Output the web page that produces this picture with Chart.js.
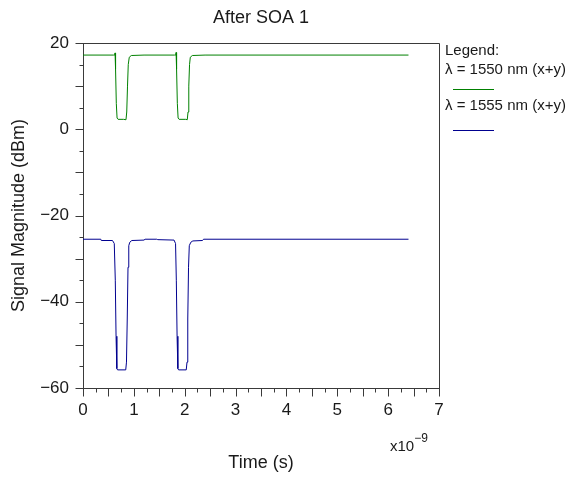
<!DOCTYPE html>
<html>
<head>
<meta charset="utf-8">
<script src="https://cdn.jsdelivr.net/npm/chart.js@4"></script>
<style>
html,body{margin:0;padding:0;background:#fff;}
#wrap{width:576px;height:480px;}
</style>
</head>
<body>
<div id="wrap"><canvas id="c" width="576" height="480"></canvas></div>
<script>
// Time in units of 1e-9 s
const chartTitle = "After SOA 1";
const xTitle = "Time (s)";
const yTitle = "Signal Magnitude (dBm)";
const xExponent = "−9";
const legendHeader = "Legend:";
const seriesNames = ["λ = 1550 nm (x+y)", "λ = 1555 nm (x+y)"];
const seriesColors = ["#008000", "#00008f"];

const timeGreen = [0, 0.60, 0.625, 0.63, 0.64, 0.655, 0.67, 0.69, 0.80, 0.845, 0.86, 0.875, 0.89, 0.91, 0.95, 1.2,
  1.80, 1.825, 1.83, 1.84, 1.855, 1.87, 1.89, 2.02, 2.05, 2.065, 2.08, 2.095, 2.11, 2.15, 2.4, 6.4];
const valGreen  = [17.2, 17.2, 17.2, 17.7, 14, 6, 2.6, 2.3, 2.3, 2.2, 4, 10, 15, 16.7, 17.1, 17.2,
  17.2, 17.2, 17.8, 14, 6, 2.6, 2.3, 2.3, 2.2, 4, 10, 15, 16.7, 17.1, 17.2, 17.2];

const timeBlue = [0, 0.35, 0.36, 0.58, 0.615, 0.635, 0.65, 0.665, 0.68, 0.84, 0.855, 0.87, 0.885, 0.90, 0.92, 0.96, 1.2, 1.22, 1.45, 1.47,
  1.79, 1.82, 1.835, 1.85, 1.865, 1.88, 2.03, 2.045, 2.06, 2.075, 2.09, 2.12, 2.16, 2.35, 2.37, 6.4];
const valBlue  = [-25.5, -25.5, -25.8, -25.8, -26.5, -35, -48, -55.5, -55.8, -55.8, -54, -44, -32, -27, -26.2, -25.8, -25.7, -25.5, -25.5, -25.6,
  -25.7, -26.5, -35, -48, -55.5, -55.8, -55.8, -54, -44, -32, -27, -26.2, -25.9, -25.8, -25.5, -25.5];

const xTickValues = [0, 1, 2, 3, 4, 5, 6, 7];
const yTickValues = [-60, -40, -20, 0, 20];

const FONT = "'Liberation Sans', Arial, sans-serif";
const TEXT = "#1a1a1a";
const AXIS = "#3a3a3a";

function pts(xs, ys) { return xs.map((x, i) => ({x: x, y: ys[i]})); }

const decor = {
  id: 'decor',
  afterDraw(chart) {
    const ctx = chart.ctx;
    const a = chart.chartArea;
    const xs = chart.scales.x, ys = chart.scales.y;
    ctx.save();
    ctx.strokeStyle = AXIS;
    ctx.lineWidth = 1;
    // frame top & right
    ctx.beginPath();
    ctx.moveTo(Math.round(a.left) + 0.5, Math.round(a.top) + 0.5);
    ctx.lineTo(Math.round(a.right) + 0.5, Math.round(a.top) + 0.5);
    ctx.lineTo(Math.round(a.right) + 0.5, Math.round(a.bottom) + 0.5);
    ctx.stroke();
    // y ticks every 5, longer at multiples of 10
    ctx.beginPath();
    for (let v = ys.min; v <= ys.max + 1e-9; v += 5) {
      const py = Math.round(ys.getPixelForValue(v)) + 0.5;
      const len = (Math.abs(v) % 10 === 0) ? 8 : 4;
      ctx.moveTo(Math.round(a.left) + 0.5, py);
      ctx.lineTo(Math.round(a.left) + 0.5 - len, py);
    }
    // x ticks every 0.25, longer at multiples of 0.5
    for (let k = 0; k <= 28; k++) {
      const v = k * 0.25;
      const px = Math.round(xs.getPixelForValue(v)) + 0.5;
      const len = (k % 2 === 0) ? 8 : 4;
      ctx.moveTo(px, Math.round(a.bottom) + 0.5);
      ctx.lineTo(px, Math.round(a.bottom) + 0.5 + len);
    }
    ctx.stroke();
    // title
    ctx.fillStyle = TEXT;
    ctx.font = "18px " + FONT;
    ctx.textAlign = "center";
    ctx.textBaseline = "middle";
    ctx.fillText(chartTitle, (a.left + a.right) / 2, 18);
    // exponent
    ctx.textAlign = "left";
    ctx.textBaseline = "alphabetic";
    ctx.font = "15px " + FONT;
    ctx.fillText("x10", 390, 451);
    const w = ctx.measureText("x10").width;
    ctx.font = "12px " + FONT;
    ctx.fillText(xExponent, 390 + w, 442);
    // legend
    ctx.font = "15px " + FONT;
    ctx.textBaseline = "middle";
    ctx.fillText(legendHeader, 445, 51);
    const rows = [70, 106];
    const lines = [89, 130];
    for (let i = 0; i < seriesNames.length; i++) {
      ctx.fillStyle = TEXT;
      ctx.fillText(seriesNames[i], 445, rows[i]);
      ctx.fillStyle = seriesColors[i];
      ctx.fillRect(453, lines[i], 41, 1);
    }
    ctx.restore();
  }
};

new Chart(document.getElementById('c'), {
  type: 'line',
  data: {
    datasets: [
      {label: seriesNames[0], data: pts(timeGreen, valGreen), borderColor: seriesColors[0], borderWidth: 1, pointRadius: 0, tension: 0, fill: false},
      {label: seriesNames[1], data: pts(timeBlue, valBlue), borderColor: seriesColors[1], borderWidth: 1, pointRadius: 0, tension: 0, fill: false}
    ]
  },
  options: {
    responsive: false,
    animation: false,
    events: [],
    layout: {padding: {left: 0, right: 137, top: 43, bottom: 0}},
    plugins: {legend: {display: false}, tooltip: {enabled: false}, title: {display: false}},
    scales: {
      x: {
        type: 'linear', min: 0, max: 7,
        afterFit(s) { s.height = 92; },
        afterBuildTicks(s) { s.ticks = xTickValues.map(v => ({value: v})); },
        ticks: {color: TEXT, font: {family: FONT, size: 17}, padding: 12, maxRotation: 0, autoSkip: false},
        grid: {display: false, drawTicks: false},
        border: {display: true, color: AXIS},
        title: {display: true, text: xTitle, color: TEXT, font: {family: FONT, size: 18}, padding: {top: 0, bottom: 6}}
      },
      y: {
        type: 'linear', min: -60, max: 20,
        afterFit(s) { s.width = 83; },
        afterBuildTicks(s) { s.ticks = yTickValues.map(v => ({value: v})); },
        ticks: {color: TEXT, font: {family: FONT, size: 17}, padding: 14, autoSkip: false,
          callback: v => (v < 0 ? "−" + Math.abs(v) : String(v))},
        grid: {display: false, drawTicks: false},
        border: {display: true, color: AXIS},
        title: {display: true, text: yTitle, color: TEXT, font: {family: FONT, size: 18}, padding: {top: 8, bottom: 0}}
      }
    }
  },
  plugins: [decor]
});
</script>
</body>
</html>
